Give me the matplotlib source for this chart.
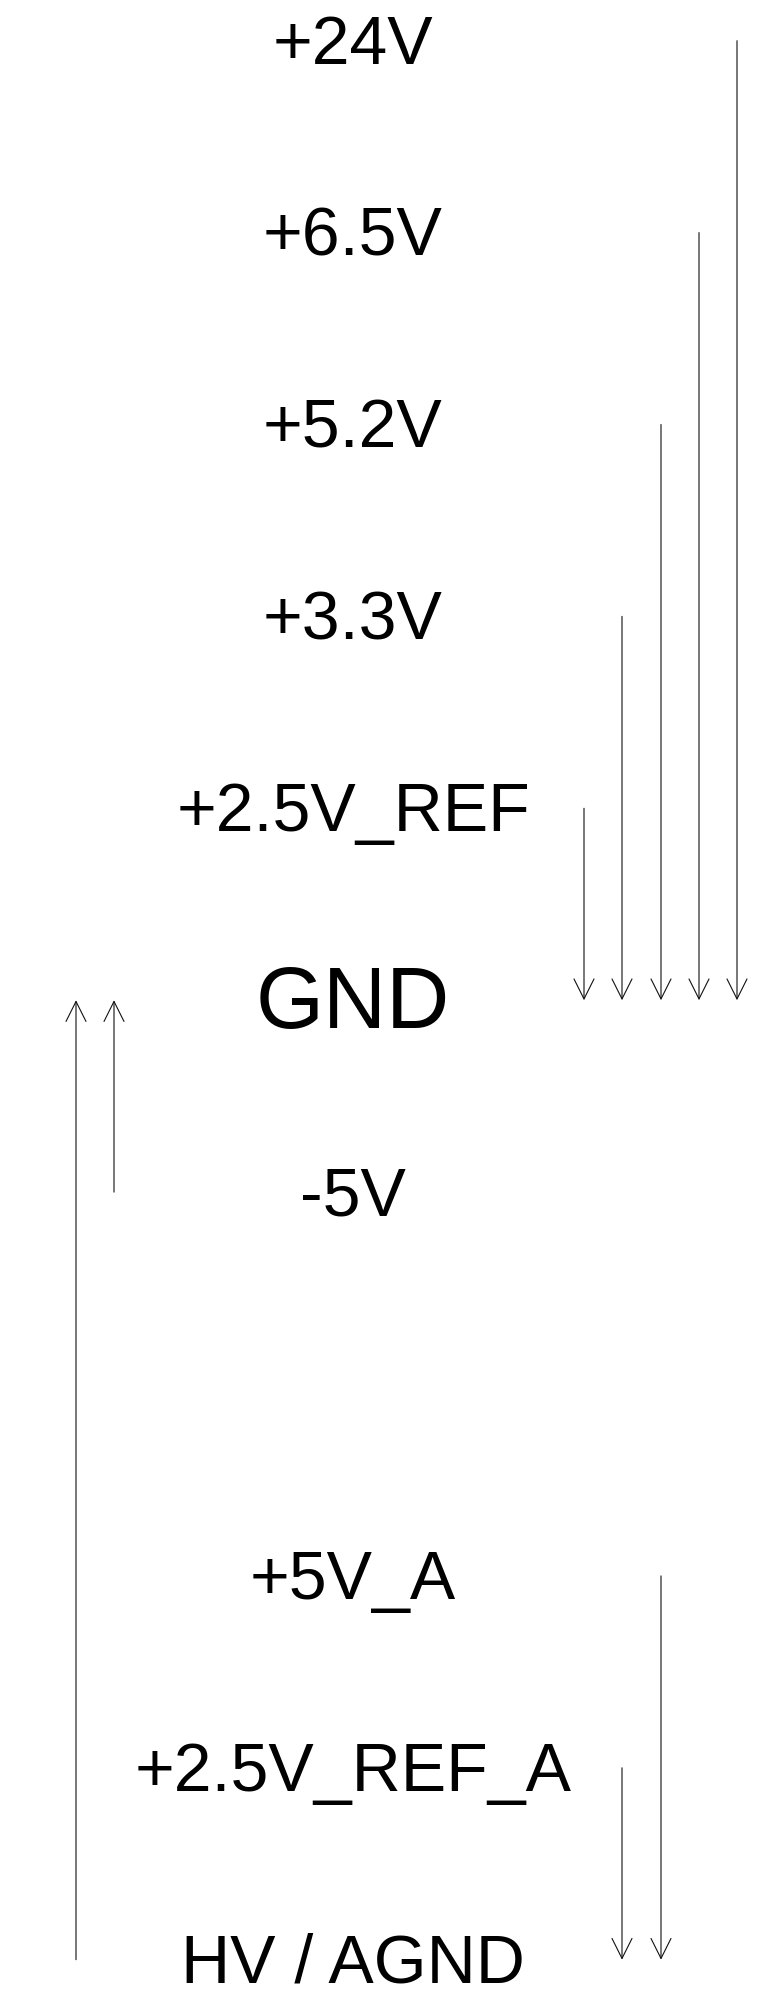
import matplotlib
matplotlib.use("Agg")
import matplotlib.pyplot as plt
from matplotlib.patches import FancyArrowPatch
from matplotlib.transforms import offset_copy

plt.rcParams['font.family'] = ['Liberation Sans', 'DejaVu Sans']

# Rail labels and their row index (row 7 is an empty gap)
rail_labels = ['+24V', '+6.5V', '+5.2V', '+3.3V', '+2.5V_REF', 'GND', '-5V',
               '+5V_A', '+2.5V_REF_A', 'HV / AGND']
rail_rows = [0, 1, 2, 3, 4, 5, 6, 8, 9, 10]

# Return-path arrows: source rail -> reference rail
arrow_sources = ['+24V', '+6.5V', '+5.2V', '+3.3V', '+2.5V_REF',
                 '-5V', 'HV / AGND', '+5V_A', '+2.5V_REF_A']
arrow_targets = ['GND', 'GND', 'GND', 'GND', 'GND',
                 'GND', 'GND', 'HV / AGND', 'HV / AGND']

# layout: horizontal lane for each arrow (pixel x)
arrow_lane_x = [737, 699, 661, 622, 584, 114, 76, 661, 622]

W, H, DPI = 759, 1990, 100
fig = plt.figure(figsize=(W / DPI, H / DPI), dpi=DPI)
ax = fig.add_axes([0, 0, 1, 1])
row_px = 191.9
top_px = 41.7
ax.set_xlim(0, W)
ax.set_ylim((H - top_px) / row_px, -top_px / row_px)
ax.axis('off')

row_of = dict(zip(rail_labels, rail_rows))

for lab, r in zip(rail_labels, rail_rows):
    big = lab == 'GND'
    fs = 63 if big else 49
    off = -27 if big else -22
    tr = offset_copy(ax.transData, fig=fig, x=0, y=off, units='dots')
    ax.text(353, r, lab, fontsize=fs, ha='center', va='baseline',
            color='black', transform=tr)

for src, dst, x in zip(arrow_sources, arrow_targets, arrow_lane_x):
    a = FancyArrowPatch((x, row_of[src]), (x, row_of[dst]),
                        arrowstyle='->,head_length=1.44,head_width=0.72',
                        mutation_scale=10, shrinkA=0, shrinkB=0,
                        lw=0.8, color='#111111')
    ax.add_patch(a)

fig.savefig('out.png', dpi=DPI, facecolor='white')
